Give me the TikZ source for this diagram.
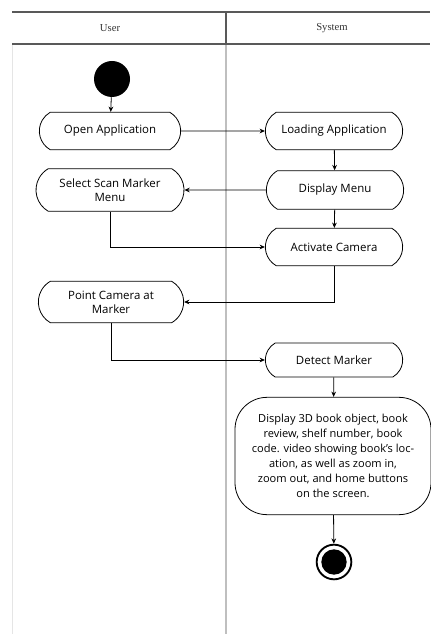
\documentclass[tikz,border=0pt]{standalone}
\usepackage{fontspec}
\setmainfont{Open Sans}
\newfontfamily\lanefont{Liberation Serif}
\usetikzlibrary{shapes.misc,arrows.meta}
\tikzstyle{activity}=[rounded rectangle, rounded rectangle arc length=120, draw, semithick, minimum width=107pt, minimum height=28pt, inner sep=2pt, align=center, font=\fontsize{8.6}{10.5}\selectfont]
\tikzstyle{initial}=[circle, fill=black, minimum size=27pt, inner sep=0pt]
\tikzstyle{final}=[circle, draw, line width=1.4pt, minimum size=26pt, inner sep=0pt, path picture={\fill (path picture bounding box.center) circle (9.5pt);}]
\tikzstyle{flow}=[-{Stealth[length=4pt,width=3.5pt]}, semithick]
\tikzstyle{lane}=[font=\lanefont\fontsize{8}{10}\selectfont, text=black!80]

\begin{document}
\begin{tikzpicture}[x=0.75pt, y=-0.75pt]
\useasboundingbox (0, 0) rectangle (430, 634);
% swimlanes
\draw[gray!20, thin] (12, 44) -- (12, 634);
\draw[gray!50, line width=1pt] (226, 44) -- (226, 634);
\draw[black!65, line width=0.8pt] (12, 12) -- (430, 12);
\draw[black!65, line width=0.8pt] (12, 44) -- (430, 44);
\draw[black!65, line width=0.8pt] (226, 12) -- (226, 44);
\node[lane] at (110, 28) (user) {User};
\node[lane] at (332, 28) (system) {System};
% activities
\node[initial] at (112, 79) (start) {};
\node[activity, minimum width=110pt] at (110, 131) (open) {Open Application};
\node[activity] at (334, 131) (load) {Loading Application};
\node[activity, minimum width=115pt, minimum height=32pt] at (110, 190) (select) {Select Scan Marker\\Menu};
\node[activity, minimum height=29pt] at (335, 190) (menu) {Display Menu};
\node[activity] at (334, 247) (activate) {Activate Camera};
\node[activity, minimum width=113pt, minimum height=31pt] at (111, 302) (point) {Point Camera at\\Marker};
\node[activity, minimum height=25.5pt] at (334, 360) (detect) {Detect Marker};
\node[rectangle, rounded corners=24pt, draw, semithick, minimum width=147pt, minimum height=88pt, align=center, font=\fontsize{8.3}{11.2}\selectfont] at (333, 456) (show) {Display 3D book object, book\\review, shelf number, book\\code. video showing book's loc-\\ation, as well as zoom in,\\zoom out, and home buttons\\on the screen.};
\node[final] at (334, 562) (end) {};
% transitions
\draw[flow] (start) -- (open);
\draw[flow] (open) -- (load);
\draw[flow] (load) -- (menu);
\draw[flow] (menu) -- (select);
\draw[flow] (menu) -- (activate);
\draw[flow] (select) |- (activate);
\draw[flow] (activate) |- (point);
\draw[flow] (point) |- (detect);
\draw[flow] (detect) -- (show);
\draw[flow] (show) -- (end);
\end{tikzpicture}
\end{document}
